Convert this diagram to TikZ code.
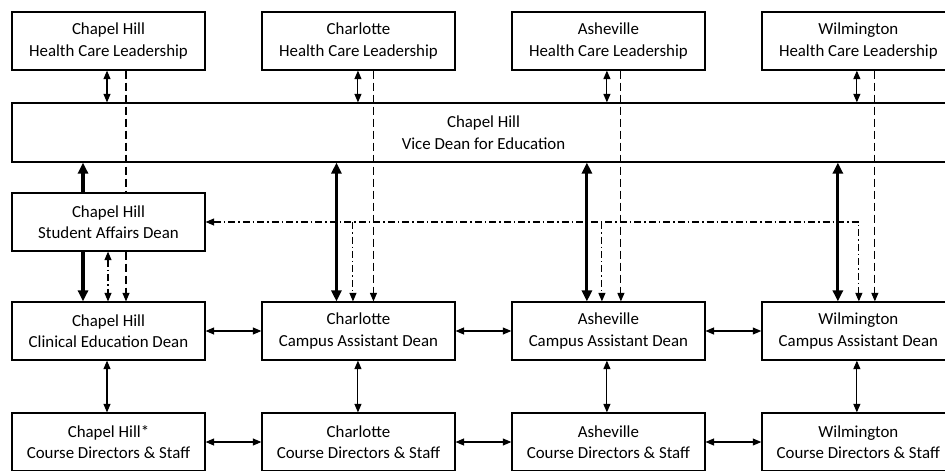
\documentclass[tikz,border=0pt]{standalone}
\usepackage{fontspec}
\setmainfont{Carlito}
\usetikzlibrary{arrows.meta,positioning}

\begin{document}
\begin{tikzpicture}[x=0.02cm, y=-0.02cm, node distance=5cm,
    >={Triangle[length=1.7mm,width=1.4mm]},
    main node/.style={rectangle, draw, line width=0.7pt, fill=white, inner sep=0pt,
      minimum width=3.86cm, minimum height=1.16cm, align=center},
    link/.style={line width=0.6pt},
    dashed link/.style={line width=0.6pt, dash pattern=on 1.6mm off 0.8mm},
    dotdash link/.style={line width=0.6pt, dash pattern=on 1.4mm off 0.6mm on 0.3mm off 0.6mm},
    thick link/.style={line width=1.8pt, >={Triangle[length=2.2mm,width=2mm]}}]
        \tikzstyle{every node}=[font=\fontsize{9.6}{12.2}\selectfont]
        \path[use as bounding box, clip] (0,0) rectangle (945,470);

          % health care leadership
          \node[main node] (1) at (108.5,41) {Chapel Hill\\Health Care Leadership};
          \node[main node] (2) [right of=1] {Charlotte\\Health Care Leadership};
          \node[main node] (3) [right of=2] {Asheville\\Health Care Leadership};
          \node[main node] (4) [right of=3] {Wilmington\\Health Care Leadership};

          \node[main node, minimum width=18.86cm, minimum height=1.18cm] (5) at (483.5,132.5)
            {Chapel Hill\\Vice Dean for Education};

          \node[main node] (6) at (108.5,222) {Chapel Hill\\Student Affairs Dean};

          % deans
          \node[main node] (7) at (108.5,331) {Chapel Hill\\Clinical Education Dean};
          \node[main node] (8) [right of=7] {Charlotte\\Campus Assistant Dean};
          \node[main node] (9) [right of=8] {Asheville\\Campus Assistant Dean};
          \node[main node] (10) [right of=9] {Wilmington\\Campus Assistant Dean};

          % course directors
          \node[main node] (11) at (108.5,442) {Chapel Hill*\\Course Directors \& Staff};
          \node[main node] (12) [right of=11] {Charlotte\\Course Directors \& Staff};
          \node[main node] (13) [right of=12] {Asheville\\Course Directors \& Staff};
          \node[main node] (14) [right of=13] {Wilmington\\Course Directors \& Staff};

          % leadership to vice dean
          \draw[link, <->] ([xshift=-0.03cm]1.south) -- ([xshift=-0.03cm]1.south |- 5.north);
          \draw[link, <->] ([xshift=-0.01cm]2.south) -- ([xshift=-0.01cm]2.south |- 5.north);
          \draw[link, <->] ([xshift=-0.03cm]3.south) -- ([xshift=-0.03cm]3.south |- 5.north);
          \draw[link, <->] ([xshift=-0.03cm]4.south) -- ([xshift=-0.03cm]4.south |- 5.north);

          % leadership to deans
          \draw[dashed link] ([xshift=0.35cm]1.south) -- ([xshift=0.35cm]6.north);
          \draw[dashed link, ->] ([xshift=0.35cm]6.south) -- ([xshift=0.35cm]7.north);
          \draw[dashed link, ->] ([xshift=0.30cm]2.south) -- ([xshift=0.30cm]8.north);
          \draw[dashed link, ->] ([xshift=0.25cm]3.south) -- ([xshift=0.25cm]9.north);
          \draw[dashed link, ->] ([xshift=0.33cm]4.south) -- ([xshift=0.33cm]10.north);

          % vice dean to deans
          \draw[thick link, ->] ([xshift=-0.51cm]6.north) -- ([xshift=-0.51cm]6.north |- 5.south);
          \draw[thick link, ->] ([xshift=-0.51cm]6.south) -- ([xshift=-0.51cm]7.north);
          \draw[thick link, <->] ([xshift=-0.44cm]8.north |- 5.south) -- ([xshift=-0.44cm]8.north);
          \draw[thick link, <->] ([xshift=-0.43cm]9.north |- 5.south) -- ([xshift=-0.43cm]9.north);
          \draw[thick link, <->] ([xshift=-0.41cm]10.north |- 5.south) -- ([xshift=-0.41cm]10.north);

          % student affairs
          \draw[dotdash link, <->] ([xshift=-0.01cm]6.south) -- ([xshift=-0.01cm]7.north);
          \draw[dotdash link, <->] (6.east) -- ([xshift=0.01cm]10.north |- 6.east) -- ([xshift=0.01cm]10.north);
          \draw[dotdash link, ->] ([xshift=-0.11cm]8.north |- 6.east) -- ([xshift=-0.11cm]8.north);
          \draw[dotdash link, ->] ([xshift=-0.13cm]9.north |- 6.east) -- ([xshift=-0.13cm]9.north);

          % across campuses
          \path[link, <->]
            (7) edge (8)
            (8) edge (9)
            (9) edge (10)
            (11) edge (12)
            (12) edge (13)
            (13) edge (14)
            ([xshift=-0.03cm]7.south) edge ([xshift=-0.03cm]11.north)
            ([xshift=-0.01cm]8.south) edge ([xshift=-0.01cm]12.north)
            ([xshift=-0.03cm]9.south) edge ([xshift=-0.03cm]13.north)
            ([xshift=-0.03cm]10.south) edge ([xshift=-0.03cm]14.north);

        \end{tikzpicture}
\end{document}
